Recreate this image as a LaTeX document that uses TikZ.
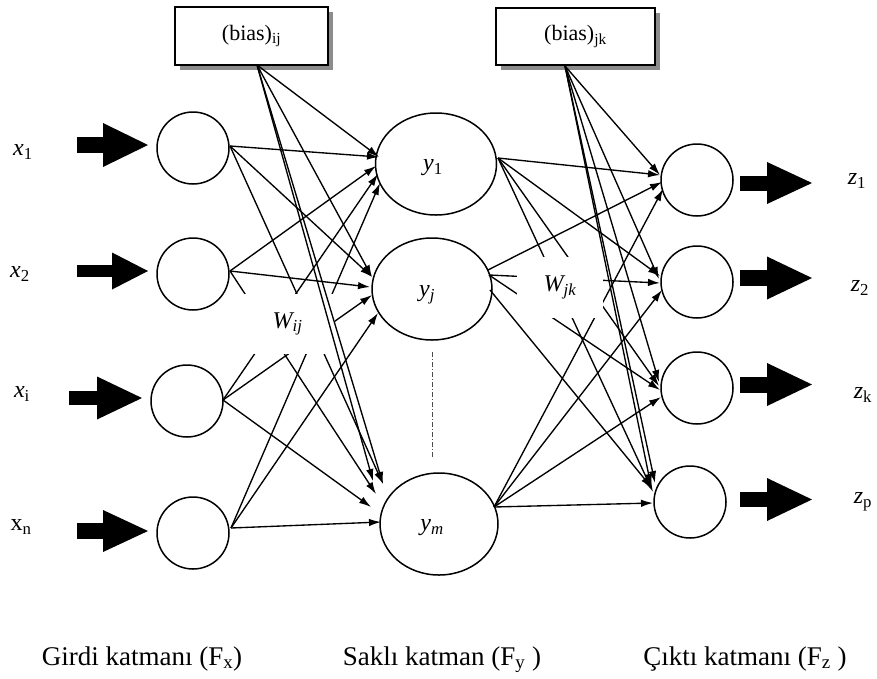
\documentclass[tikz,border=0pt]{standalone}
\usepackage{fontspec}
\setmainfont{Liberation Serif}
\usetikzlibrary{arrows.meta,shapes.geometric,shadows}
\newcommand\blockarr[6]{%
  \fill (#1,#4-#5) rectangle (#2+1,#4+#5);
  \fill (#2,#4-#6) -- (#3,#4) -- (#2,#4+#6) -- cycle;}
\begin{document}
\begin{tikzpicture}[x=1pt,y=-1pt,
  wire/.style={line width=1.35pt},
  arr/.style={wire,-{Latex[length=12pt,width=7.5pt]}},
  neuron/.style={circle,draw,line width=1.5pt,minimum size=72pt,inner sep=0pt},
  hid/.style={ellipse,draw,line width=1.5pt,minimum height=102pt,inner sep=0pt},
  biasbox/.style={rectangle,draw,line width=1.5pt,fill=white,inner sep=0pt,
     drop shadow={shadow xshift=4.5pt,shadow yshift=-5pt,fill=black!45,opacity=1}},
  cover/.style={fill=white,inner sep=0pt,font=\fontsize{24}{28}\selectfont\itshape},
  lab/.style={font=\fontsize{24}{28}\selectfont,inner sep=0pt},
  layer/.style={font=\fontsize{27}{32}\selectfont,inner sep=0pt,anchor=base},
  biastext/.style={font=\fontsize{22}{26}\selectfont},
  dashdot line/.style={line width=0.8pt,black!70,dash pattern=on 5pt off 2pt on 1pt off 2pt}
]
\useasboundingbox (0,0) rectangle (877,678);

% bias boxes
\node[biasbox,minimum width=153pt,minimum height=58pt,biastext] (b1) at (251.5,36) {(bias)\textsubscript{ij}};
\node[biasbox,minimum width=159pt,minimum height=57pt,biastext] (b2) at (575.5,36.5) {(bias)\textsubscript{jk}};

% neurons
\node[neuron] (in1) at (193,148) {};
\node[neuron] (in2) at (193,274) {};
\node[neuron] (in3) at (187,401) {};
\node[neuron] (in4) at (193,533) {};
\node[hid,minimum width=121pt] (h1) at (436,164) {};
\node[hid,minimum width=120pt] (h2) at (432,289) {};
\node[hid,minimum width=118pt] (h3) at (439,524) {};
\node[neuron] (o1) at (697,180) {};
\node[neuron] (o2) at (697,282) {};
\node[neuron] (o3) at (697,388) {};
\node[neuron] (o4) at (690,502) {};

% ports
\coordinate (P1) at (230,146);
\coordinate (P2) at (230,271);
\coordinate (P3) at (223,400);
\coordinate (P4) at (231,528);
\coordinate (B1) at (257,65);
\coordinate (B2) at (565,66);
\coordinate (R1) at (498,158);
\coordinate (R2) at (489,275);
\coordinate (R2a) at (488,270);
\coordinate (R2b) at (490,290);
\coordinate (R3) at (494,507);
% arrival points, hidden layer
\coordinate (Ya) at (379,157);
\coordinate (Yb) at (376,166);
\coordinate (Yc) at (378,174);
\coordinate (Yd) at (380,183);
\coordinate (Ja) at (372,277);
\coordinate (Jb) at (370,287);
\coordinate (Jc) at (372,295);
\coordinate (Jd) at (378,313);
\coordinate (Ma) at (383,484);
\coordinate (Ma2) at (373,481);
\coordinate (Mb) at (376,494);
\coordinate (Mc) at (371,507);
\coordinate (Md) at (381,522);
% arrival points, output layer
\coordinate (U1a) at (660,175);
\coordinate (U1b) at (662,182);
\coordinate (U1c) at (663,189);
\coordinate (U2a) at (660,276);
\coordinate (U2b) at (660,283);
\coordinate (U2c) at (662,290);
\coordinate (U2d) at (659,279);
\coordinate (U3a) at (659,382);
\coordinate (U3b) at (659,386);
\coordinate (U3c) at (660,390);
\coordinate (U3d) at (661,397);
\coordinate (U4a) at (655,483);
\coordinate (U4e) at (651,486);
\coordinate (U4b) at (652,488);
\coordinate (U4c) at (653,492);
\coordinate (U4d) at (653,503);

% input -> hidden
\foreach \s/\t in {P1/Ya,P2/Yb,P3/Yc,P4/Yd,
                   P1/Ja,P2/Jb,P3/Jc,P4/Jd,
                   P1/Ma,P2/Mb,P3/Mc,P4/Md}
  \draw[arr] (\s) -- (\t);
% hidden -> output
\foreach \s/\t in {R1/U1a,R2a/U1b,R3/U1c,
                   R1/U2a,R2/U2b,R3/U2c,
                   R1/U3b,R2/U3c,R3/U3d,
                   R2b/U4b,R1/U4c,R3/U4d}
  \draw[arr] (\s) -- (\t);

% weight labels (the lines are broken around them)
\node[cover,minimum width=95pt,minimum height=60pt] (wij) at (287.5,324) {W\textsubscript{ij}};
\node[cover,minimum width=86pt,minimum height=61pt] (wjk) at (560,287.5) {W\textsubscript{jk}};

% bias connections
\foreach \t in {Ya,Ja,Ma,Ma2}
  \draw[arr] (B1) -- (\t);
\foreach \t in {U1a,U2d,U3a,U4a,U4e}
  \draw[arr] (B2) -- (\t);

% dots between hidden neurons
\coordinate (d1) at (432,352);
\coordinate (d2) at (432,457);
\draw[dashdot line] (d1) -- (d2);

% block arrows
\blockarr{77}{103}{148}{145}{8}{22}
\blockarr{77}{112}{148}{271}{6}{18.5}
\blockarr{69}{97}{142}{398}{7}{21.5}
\blockarr{77}{103}{148}{531}{8}{21}
\blockarr{740}{767}{812}{183}{7.5}{21}
\blockarr{740}{767}{812}{278}{8}{21.5}
\blockarr{740}{767}{812}{384.5}{8}{21.5}
\blockarr{740}{767}{812}{499.5}{7.5}{21.5}

% labels
\node[lab] (lx1) at (23,152) {{\itshape x}\textsubscript{1}};
\node[lab] (lx2) at (20,274) {{\itshape x}\textsubscript{2}};
\node[lab] (lx3) at (22,394) {{\itshape x}\textsubscript{i}};
\node[lab] (lx4) at (21,527) {x\textsubscript{n}};
\node[lab] (lz1) at (857,181) {{\itshape z}\textsubscript{1}};
\node[lab] (lz2) at (860,288) {{\itshape z}\textsubscript{2}};
\node[lab] (lz3) at (863,395) {{\itshape z}\textsubscript{k}};
\node[lab] (lz4) at (863,502) {{\itshape z}\textsubscript{p}};
\node[lab] (ly1) at (433,168) {{\itshape y}\textsubscript{1}};
\node[lab] (ly2) at (427,295) {\itshape y\textsubscript{j}};
\node[lab] (ly3) at (432,528) {\itshape y\textsubscript{m}};

\node[layer] (lf1) at (142,665) {Girdi katmanı (F\textsubscript{x})};
\node[layer] (lf2) at (442,665) {Saklı katman (F\textsubscript{y} )};
\node[layer] (lf3) at (745,665) {Çıktı katmanı (F\textsubscript{z} )};
\end{tikzpicture}
\end{document}
